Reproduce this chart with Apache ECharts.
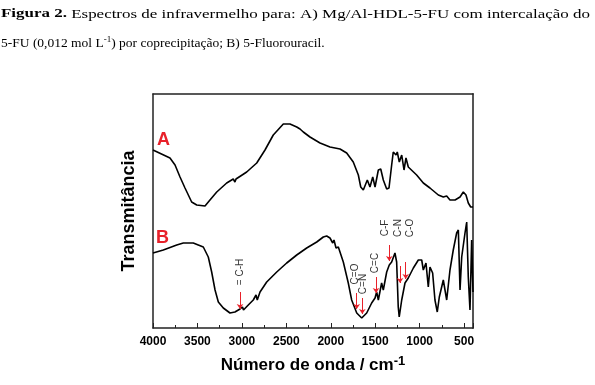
<!DOCTYPE html>
<html><head><meta charset="utf-8">
<script src="https://cdn.jsdelivr.net/npm/echarts@6/dist/echarts.min.js"></script>
<style>html,body{margin:0;padding:0;background:#fff}#c{width:595px;height:385px}</style>
</head><body><div id="c"></div>
<script>
// Wavenumbers (cm-1) and transmittance (arbitrary units)
const wnA = [4000,3809,3752,3696,3640,3565,3508,3415,3359,3283,3171,3097,3078,3066,2946,2833,2740,2647,2534,2459,2383,2346,2324,2309,2234,2121,2009,1896,1821,1747,1690,1663,1634,1615,1589,1559,1528,1502,1465,1438,1409,1371,1345,1315,1297,1266,1252,1229,1202,1176,1154,1128,1109,1034,959,884,790,734,696,659,602,546,509,479,453,426,400];
const tA  = [178,170,163,151,140,126,123,122,128,136,145,149,146,149,156,165,178,193,204,204,201,199,197,196,191,185,181,179,175,166,153,141,138,136,148,141,151,141,158,159,148,139,140,163,176,173,176,166,173,158,170,161,162,153,145,140,133,131,132,128,128,131,136,133,125,121,121];
const wnB = [4000,3884,3733,3659,3547,3434,3378,3340,3302,3265,3209,3134,3078,3021,2993,2982,2965,2928,2909,2872,2841,2827,2796,2721,2608,2496,2383,2271,2158,2084,2046,2009,1978,1964,1941,1915,1859,1803,1765,1708,1652,1596,1540,1502,1484,1465,1428,1409,1371,1342,1315,1278,1259,1241,1230,1202,1165,1128,1071,1015,977,959,929,903,884,854,828,802,779,734,696,659,622,584,565,546,527,490,471,453,434,415,400];
const tB  = [75,78,83,85,85,81,71,56,38,26,20,15,16,19,21,18,20,23,21,28,33,28,36,46,56,65,73,80,86,91,92,90,85,88,80,81,66,45,28,15,10,15,25,30,36,28,45,38,56,63,66,75,66,21,11,28,45,50,60,68,68,58,65,41,61,55,28,16,31,48,28,58,78,95,98,38,71,95,106,51,18,88,36];
// band assignments: label, label position (wn, T), arrow (wn, T start, T end)
const bandLabels = ['= C-H','C=O','C=N','C=C','C-F','C-N','C-O'];
const bandLabelWn = [3015,1724,1638,1497,1390,1240,1109];
const bandLabelT  = [56,54,44,65,100,100,100];
const arrowWn     = [3021,1708,1645,1491,1342,1221,1157];
const arrowTop    = [36,35,30,51,83,62,66];
const arrowBottom = [19,19,14,35,67,45,49];

const zip = (a,b) => a.map((v,i)=>[v,b[i]]);
const chart = echarts.init(document.getElementById('c'), null, {renderer:'canvas'});
const RED = '#e8212a';
const FONT = 'Arial, Liberation Sans';
const axisLine = {show:true, onZero:false, lineStyle:{color:'#222', width:1.5}};

// first caption line is stretched to the full width in the source
const SERIF = '13.5px Liberation Serif';
const ctx = document.createElement('canvas').getContext('2d');
ctx.font = 'bold ' + SERIF; let w1 = ctx.measureText('Figura 2.').width;
ctx.font = SERIF; w1 += ctx.measureText(' Espectros de infravermelho para: A) Mg/Al-HDL-5-FU com intercalação do').width;
const stretch = 589 / w1;

chart.setOption({
  animation:false,
  backgroundColor:'#fff',
  grid:{left:153, right:122, top:94, bottom:57},
  xAxis:[{
    type:'value', min:400, max:4000, inverse:true, splitNumber:7,
    axisLine, splitLine:{show:false},
    axisTick:{show:true, inside:true, length:5, lineStyle:{color:'#222'}},
    minorTick:{show:true, splitNumber:2, length:3, lineStyle:{color:'#222'}},
    axisLabel:{color:'#000', fontFamily:FONT, fontWeight:'bold', fontSize:12, margin:8, showMinLabel:false, formatter:v=>String(v)},
    name:'Número de onda / cm{s|-1}', nameLocation:'middle', nameGap:27,
    nameTextStyle:{color:'#000', fontFamily:FONT, fontWeight:'bold', fontSize:17,
      rich:{s:{fontSize:13, fontWeight:'bold', fontFamily:FONT, verticalAlign:'top', padding:[0,0,8,0]}}}
  },{
    type:'value', min:400, max:4000, inverse:true, position:'top',
    axisLine, axisTick:{show:false}, axisLabel:{show:false}, splitLine:{show:false}
  }],
  yAxis:[{
    type:'value', min:0, max:234,
    axisLine, axisTick:{show:false}, axisLabel:{show:false}, splitLine:{show:false},
    name:'Transmitância', nameLocation:'middle', nameGap:15, nameRotate:90,
    nameTextStyle:{color:'#000', fontFamily:FONT, fontWeight:'bold', fontSize:18}
  },{
    type:'value', min:0, max:234, position:'right',
    axisLine:{show:true, onZero:false, lineStyle:{color:'#555', width:2}}, axisTick:{show:false}, axisLabel:{show:false}, splitLine:{show:false}
  }],
  series:[
    {type:'line', data:zip(wnA,tA), showSymbol:false, lineStyle:{color:'#000', width:1.6}, silent:true},
    {type:'line', data:zip(wnB,tB), showSymbol:false, lineStyle:{color:'#000', width:1.6}, silent:true,
     markLine:{silent:true, symbol:['none','arrow'], symbolSize:5, label:{show:false},
       lineStyle:{color:RED, width:1, type:'solid'},
       data: arrowWn.map((w,i)=>[{coord:[w,arrowTop[i]]},{coord:[w,arrowBottom[i]]}])}},
    {type:'scatter', symbolSize:0, silent:true,
     data: bandLabels.map((t,i)=>({value:[bandLabelWn[i], bandLabelT[i]], name:t})),
     label:{show:true, position:'inside', rotate:90, formatter:p=>p.name, color:'#000', fontSize:10, fontFamily:FONT}}
  ],
  graphic:[
    {type:'text', left:157, top:131, style:{text:'A', fill:RED, font:'bold 18px '+FONT}},
    {type:'text', left:156, top:229, style:{text:'B', fill:RED, font:'bold 18px '+FONT}},
    {type:'text', x:1, y:7, scaleX:stretch, style:{text:'{b|Figura 2.} Espectros de infravermelho para: A) Mg/Al-HDL-5-FU com intercalação do', fill:'#000', font:SERIF,
      rich:{b:{fontWeight:'bold', fontFamily:'Liberation Serif', fontSize:13.5}}}},
    {type:'text', x:1, y:35, style:{text:'5-FU (0,012 mol L{s|-1}) por coprecipitação; B) 5-Fluorouracil.', fill:'#000', font:SERIF,
      rich:{s:{fontSize:9, fontFamily:'Liberation Serif', verticalAlign:'top', padding:[0,0,7,0]}}}}
  ]
});
</script></body></html>
